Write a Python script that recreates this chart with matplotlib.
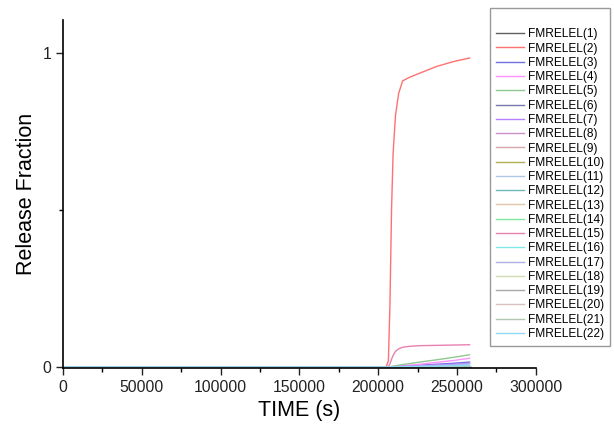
import matplotlib
matplotlib.use("Agg")
import matplotlib.pyplot as plt
from matplotlib.ticker import MultipleLocator

plt.rcParams['font.family'] = ['Liberation Sans', 'DejaVu Sans']

# shared time axis (s)
time = [0, 25000, 150000, 205000, 206500, 207500, 208500, 209500, 211000,
        213000, 215500, 220000, 226500, 237000, 248000, 258000]

zero = [0.0] * len(time)
fm2 = [0, 0, 0, 0, 0.02, 0.2, 0.5, 0.68, 0.8, 0.87, 0.91, 0.922, 0.935, 0.956, 0.972, 0.983]
fm15 = [0, 0, 0, 0, 0.002, 0.01, 0.025, 0.037, 0.05, 0.058, 0.063, 0.066, 0.068, 0.069, 0.070, 0.071]
fm5 = [0, 0, 0, 0, 0.0005, 0.001, 0.002, 0.003, 0.004, 0.006, 0.008, 0.011, 0.016, 0.023, 0.031, 0.039]
fm4 = [0, 0, 0, 0, 0.0003, 0.0006, 0.001, 0.0015, 0.002, 0.003, 0.004, 0.006, 0.009, 0.015, 0.021, 0.028]
fm3 = [0, 0, 0, 0, 0.0002, 0.0004, 0.0007, 0.001, 0.0015, 0.002, 0.003, 0.004, 0.006, 0.009, 0.012, 0.016]
fm7 = [0, 0, 0, 0, 0.0001, 0.0003, 0.0005, 0.0008, 0.001, 0.0015, 0.002, 0.003, 0.004, 0.007, 0.009, 0.012]
fm17 = [0, 0, 0, 0, 0.0001, 0.0002, 0.0004, 0.0006, 0.0008, 0.001, 0.0015, 0.002, 0.003, 0.005, 0.007, 0.010]
fm22 = [0, 0, 0, 0, 0, 0.0001, 0.0002, 0.0003, 0.0005, 0.0007, 0.001, 0.0015, 0.002, 0.003, 0.0045, 0.006]
fm16 = [0, 0, 0, 0, 0, 0.0001, 0.0001, 0.0002, 0.0003, 0.0004, 0.0006, 0.001, 0.0014, 0.002, 0.003, 0.004]
fm12 = [0, 0, 0, 0, 0, 0, 0.0001, 0.0001, 0.0002, 0.0003, 0.0005, 0.0007, 0.001, 0.0015, 0.0022, 0.003]

series = {1: zero, 2: fm2, 3: fm3, 4: fm4, 5: fm5, 6: zero, 7: fm7, 8: zero,
          9: zero, 10: zero, 11: zero, 12: fm12, 13: zero, 14: zero, 15: fm15,
          16: fm16, 17: fm17, 18: zero, 19: zero, 20: zero, 21: zero, 22: fm22}

colors = ['#606060', '#ff7070', '#7070e0', '#ff90ff', '#90c890', '#7878b0',
          '#b880ff', '#c890c8', '#d8a8a8', '#b0b050', '#b0c8e8', '#70b8b8',
          '#e0c8a8', '#80e8a0', '#e880b0', '#80e8e8', '#b0b0e8', '#d0dcb0',
          '#a8a8a8', '#d8c0c0', '#b0c8b0', '#90d8f8']

fig = plt.figure(figsize=(6.14, 4.28), dpi=100)
ax = fig.add_axes([0.1026, 0.1402, 0.7699, 0.8131])

for i, c in zip(range(1, 23), colors):
    ax.plot(time, series[i], color=c, lw=1.0, label=f'FMRELEL({i})')

ax.set_xlim(0, 300000)
ax.set_ylim(-0.003, 1.104)
ax.set_xticks([0, 50000, 100000, 150000, 200000, 250000, 300000])
ax.set_yticks([0, 1])
ax.xaxis.set_minor_locator(MultipleLocator(25000))
ax.yaxis.set_minor_locator(MultipleLocator(0.5))
ax.tick_params(which='major', direction='out', length=5, width=1, labelsize=11.3, colors='#222222')
ax.tick_params(which='minor', direction='out', length=3, width=1)
for s in ['top', 'right']:
    ax.spines[s].set_visible(False)
for s in ['left', 'bottom']:
    ax.spines[s].set_linewidth(1.2)

ax.set_xlabel('TIME (s)', fontsize=15.5)
ax.set_ylabel('Release Fraction', fontsize=15.5)

leg = fig.legend(loc='upper right', bbox_to_anchor=(0.9935, 0.981), borderaxespad=0,
                 fontsize=8.6, title=' ', title_fontsize=8.6, fancybox=False,
                 framealpha=1, edgecolor='#999999', handlelength=2.3,
                 labelspacing=0.19, borderpad=0.5, handletextpad=0.35)
leg.get_frame().set_linewidth(1.0)

fig.savefig('out.png', dpi=100)
